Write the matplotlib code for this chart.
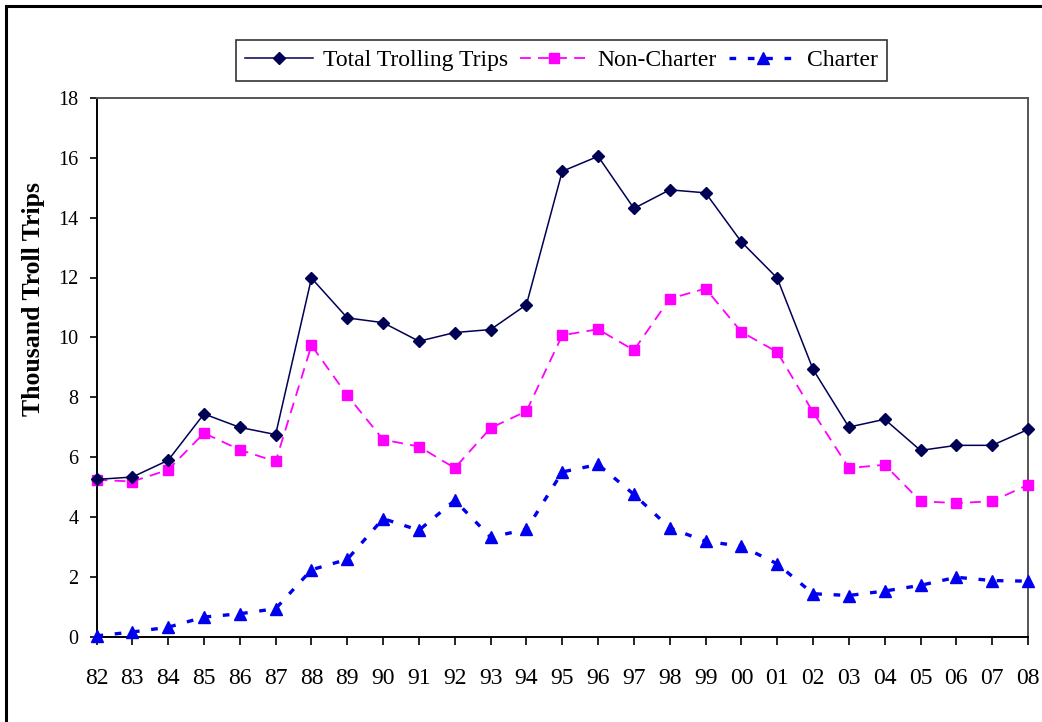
import numpy as np
import matplotlib
matplotlib.use('Agg')
import matplotlib.pyplot as plt
from matplotlib.patches import Rectangle

# Trolling trips (thousands), 1982-2008
years = ['82', '83', '84', '85', '86', '87', '88', '89', '90', '91', '92', '93', '94',
         '95', '96', '97', '98', '99', '00', '01', '02', '03', '04', '05', '06', '07', '08']
total = [5.25, 5.33, 5.89, 7.44, 6.99, 6.75, 11.98, 10.65, 10.49, 9.87, 10.16, 10.26, 11.09,
         15.55, 16.05, 14.31, 14.93, 14.83, 13.19, 11.98, 8.93, 7.00, 7.26, 6.22, 6.39, 6.39, 6.92]
non_charter = [5.24, 5.18, 5.57, 6.80, 6.24, 5.85, 9.73, 8.06, 6.58, 6.35, 5.63, 6.97, 7.53,
               10.07, 10.27, 9.57, 11.29, 11.63, 10.18, 9.51, 7.50, 5.63, 5.74, 4.52, 4.46, 4.52, 5.07]
charter = [0.02, 0.15, 0.31, 0.65, 0.76, 0.93, 2.23, 2.58, 3.94, 3.55, 4.55, 3.32, 3.58,
           5.50, 5.75, 4.75, 3.63, 3.18, 3.02, 2.43, 1.43, 1.37, 1.52, 1.71, 1.98, 1.87, 1.85]

plt.rcParams['font.family'] = ['Liberation Serif', 'DejaVu Serif']

fig = plt.figure(figsize=(10.42, 7.22), dpi=100)
W, H = 1042, 722
ax = fig.add_axes([96.5 / W, 1 - 636.5 / H, (1028 - 96.5) / W, (636.5 - 98) / H])

x = np.arange(len(years))
ax.plot(x, total, color='#000055', lw=1.1, marker='D', ms=6.5,
        label='Total Trolling Trips', clip_on=False, zorder=4)
ax.plot(x, non_charter, color='#FF00FF', lw=1.3, ls=(0, (6, 4)), marker='s', ms=7,
        label='Non-Charter', clip_on=False, zorder=3)
ax.plot(x, charter, color='#0000EE', lw=2.4, ls=(0, (2, 3.5)), marker='^', ms=8,
        label='Charter', clip_on=False, zorder=3)

ax.set_xlim(0, len(years) - 1)
ax.set_ylim(0, 18)
ax.set_xticks(x)
ax.set_xticklabels(years)
ax.set_yticks(np.arange(0, 19, 2))

ax.tick_params(axis='x', direction='out', length=6, width=1.2, pad=17, labelsize=17)
ax.tick_params(axis='y', direction='out', length=5, width=1.2, pad=8, labelsize=14.5)

for s in ['left', 'bottom']:
    ax.spines[s].set_color('black')
    ax.spines[s].set_linewidth(1.4)
for s in ['top', 'right']:
    ax.spines[s].set_color('#555555')
    ax.spines[s].set_linewidth(1.4)

ax.set_ylabel('Thousand Troll Trips', fontsize=18.5, fontweight='bold')
ax.yaxis.set_label_coords(-0.055, 0.627)

leg = ax.legend(loc='center', bbox_to_anchor=(0.499, 1.0697), ncol=3, fontsize=17,
                frameon=True, fancybox=False, handlelength=2.9, handletextpad=0.4,
                columnspacing=0.5, borderpad=0.4, borderaxespad=0)
leg.get_frame().set_edgecolor('black')
leg.get_frame().set_linewidth(1.2)

# outer frame (right and bottom edges run off the picture)
fig.patches.append(Rectangle((6 / W, -0.1), 1.2, 1 - 6 / H + 0.1, transform=fig.transFigure,
                             fill=False, edgecolor='black', lw=2.2, clip_on=False))

fig.savefig('out.png', dpi=100)
